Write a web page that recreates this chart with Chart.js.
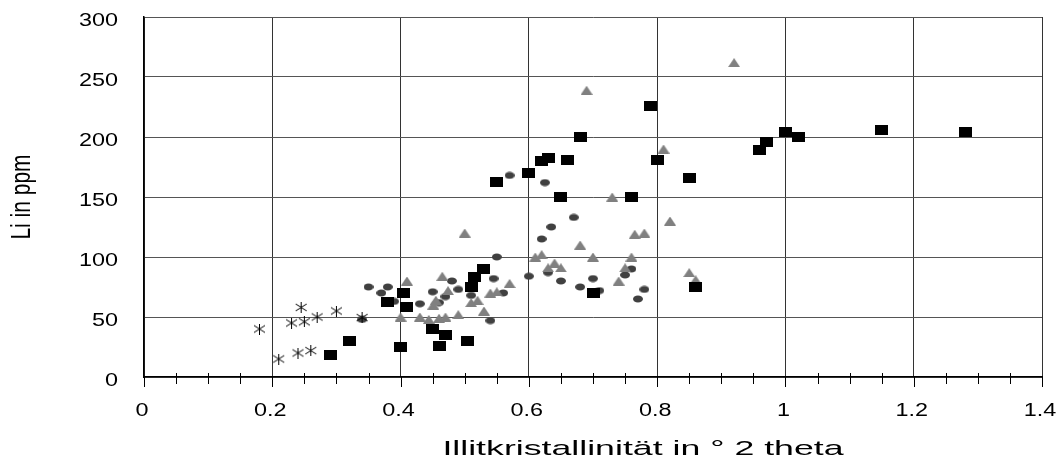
<!DOCTYPE html>
<html>
<head>
<meta charset="utf-8">
<script src="https://cdn.jsdelivr.net/npm/chart.js@4"></script>
<style>
  html, body { margin: 0; padding: 0; background: #fff; }
</style>
</head>
<body>
<canvas id="myChart" width="1063" height="460"></canvas>
<script>
// values (x = Illitkristallinität, y = Li in ppm)
const starX = [0.18, 0.21, 0.23, 0.24, 0.245, 0.25, 0.26, 0.27, 0.30, 0.34];
const starY = [40, 15, 45, 20, 58, 46, 22, 50, 55, 49.5];

const squareX = [0.29, 0.32, 0.38, 0.40, 0.404, 0.41, 0.45, 0.46, 0.47, 0.505, 0.51, 0.515, 0.53,
                 0.55, 0.60, 0.62, 0.63, 0.65, 0.66, 0.68, 0.70, 0.76, 0.79, 0.80, 0.85, 0.86,
                 0.96, 0.97, 1.0, 1.02, 1.15, 1.28];
const squareY = [18, 30, 62.5, 25, 70, 58, 40, 26, 35, 30, 75, 83, 90,
                 162.5, 170, 180, 182.5, 150, 180.5, 200, 70, 150, 226, 181, 166, 75,
                 189, 196, 204, 200, 206, 204];

const triX = [0.40, 0.41, 0.43, 0.444, 0.451, 0.455, 0.46, 0.465, 0.47, 0.474, 0.49, 0.50, 0.51,
              0.52, 0.53, 0.54, 0.55, 0.57, 0.61, 0.62, 0.63, 0.64, 0.65, 0.68, 0.69, 0.70,
              0.73, 0.74, 0.75, 0.76, 0.765, 0.78, 0.81, 0.82, 0.85, 0.86, 0.92];
const triY = [50, 80, 50, 48, 60, 64, 49, 84, 50, 72, 52, 120, 62,
              64, 55, 70, 71, 78, 100, 102, 91, 95, 91, 110, 239, 100,
              150, 80, 91, 100, 119, 120, 190, 130, 87, 81, 262];

const dotX = [0.34, 0.35, 0.37, 0.38, 0.39, 0.43, 0.45, 0.46, 0.47, 0.48, 0.49, 0.51, 0.54, 0.545,
              0.55, 0.56, 0.57, 0.60, 0.62, 0.625, 0.63, 0.635, 0.65, 0.67, 0.68, 0.70, 0.71,
              0.75, 0.76, 0.77, 0.78];
const dotY = [48, 75, 70, 75, 63, 61, 71, 62, 67, 80, 73, 68, 47, 82,
              100, 70, 168, 84, 115, 162, 87, 125, 80, 133, 75, 82, 72,
              85, 90, 65, 73];

const xTicks = [0, 0.2, 0.4, 0.6, 0.8, 1, 1.2, 1.4];
const yTicks = [0, 50, 100, 150, 200, 250, 300];

const xTitle = "Illitkristallinität in ° 2 theta";
const yTitle = "Li in ppm";

const FONT = "'Liberation Sans', Arial, sans-serif";

function pts(xs, ys) {
    return xs.map((x, i) => ({ x: x, y: ys[i] }));
}

// the markers in the picture are stretched sideways, so draw them as small images
function marker(w, h, draw) {
    const c = document.createElement("canvas");
    c.width = w;
    c.height = h;
    draw(c.getContext("2d"), w, h);
    return c;
}

const squareImg = marker(13, 10, (g, w, h) => {
    g.fillStyle = "#000";
    g.fillRect(0, 0, w, h);
});
const dotImg = marker(10, 8, (g, w, h) => {
    g.fillStyle = "#404040";
    g.beginPath();
    g.ellipse(w / 2, h / 2, w / 2, h / 2 - 0.5, 0, 0, Math.PI * 2);
    g.fill();
});
const triImg = marker(12, 9, (g, w, h) => {
    g.fillStyle = "#808080";
    g.beginPath();
    g.moveTo(w / 2, 0);
    g.lineTo(w, h);
    g.lineTo(0, h);
    g.closePath();
    g.fill();
});
const starImg = marker(13, 11, (g, w, h) => {
    g.strokeStyle = "#000";
    g.lineWidth = 1;
    g.beginPath();
    g.moveTo(6.5, 0); g.lineTo(6.5, h);
    g.moveTo(1, 2); g.lineTo(w - 1, h - 2);
    g.moveTo(w - 1, 2); g.lineTo(1, h - 2);
    g.stroke();
});

// wide text like in the picture, plus minor ticks and the x title
const S = 1.3;
const excelLook = {
    id: "excelLook",
    beforeDraw(chart) {
        const fill = CanvasRenderingContext2D.prototype.fillText;
        chart.ctx.fillText = function (text, x, y) {
            const m = this.getTransform();
            this.save();
            this.translate(x, y);
            if (Math.abs(m.b) > 0.5) this.scale(1, S);
            else this.scale(S, 1);
            fill.call(this, text, 0, 0);
            this.restore();
        };
    },
    afterDraw(chart) {
        const ctx = chart.ctx;
        delete ctx.fillText;
        const xs = chart.scales.x;
        const area = chart.chartArea;
        const b = area.bottom;

        ctx.save();
        ctx.strokeStyle = "#000";
        ctx.lineWidth = 1;
        for (let i = 0; i <= 28; i++) {
            const px = Math.round(xs.getPixelForValue(i * 0.05)) + 0.5;
            ctx.beginPath();
            if (i % 4 === 0) {
                ctx.moveTo(px, b);
                ctx.lineTo(px, b + 10);
            } else {
                ctx.moveTo(px, b - 4);
                ctx.lineTo(px, b + 7);
            }
            ctx.stroke();
        }

        ctx.font = "21px " + FONT;
        ctx.fillStyle = "#000";
        ctx.textAlign = "center";
        ctx.textBaseline = "alphabetic";
        ctx.translate((area.left + area.right) / 2 + 50, b + 78);
        ctx.scale(1.7, 1);
        ctx.fillText(xTitle, 0, 0);
        ctx.restore();
    }
};

const ctx = document.getElementById("myChart").getContext("2d");

new Chart(ctx, {
    type: "scatter",
    data: {
        datasets: [
            { label: "stars", data: pts(starX, starY), pointStyle: starImg, pointRadius: 6 },
            { label: "squares", data: pts(squareX, squareY), pointStyle: squareImg, pointRadius: 6 },
            { label: "triangles", data: pts(triX, triY), pointStyle: triImg, pointRadius: 6 },
            { label: "dots", data: pts(dotX, dotY), pointStyle: dotImg, pointRadius: 5 }
        ]
    },
    options: {
        responsive: false,
        animation: false,
        events: [],
        layout: { padding: { left: 0, right: 21, top: 17, bottom: 0 } },
        plugins: {
            legend: { display: false },
            tooltip: { enabled: false }
        },
        scales: {
            x: {
                type: "linear",
                min: xTicks[0],
                max: xTicks[xTicks.length - 1],
                afterFit: s => {
                    s.height = 83;
                    s.paddingLeft = 0;
                    s.paddingRight = 0;
                },
                grid: { display: true, drawOnChartArea: true, color: "#333", lineWidth: 1, drawTicks: false },
                border: { display: true, color: "#000", width: 1.5 },
                ticks: {
                    stepSize: xTicks[1] - xTicks[0],
                    color: "#000",
                    font: { family: FONT, size: 18 },
                    padding: 23,
                    labelOffset: -2,
                    maxRotation: 0,
                    autoSkip: false,
                    callback: v => String(Math.round(v * 10) / 10)
                }
            },
            y: {
                type: "linear",
                min: yTicks[0],
                max: yTicks[yTicks.length - 1],
                afterFit: s => {
                    s.width = 144;
                    s.paddingTop = 0;
                    s.paddingBottom = 0;
                },
                grid: { display: true, drawOnChartArea: true, color: "#555", lineWidth: 1, drawTicks: false },
                border: { display: true, color: "#000", width: 1.5 },
                ticks: {
                    stepSize: yTicks[1] - yTicks[0],
                    color: "#000",
                    font: { family: FONT, size: 18 },
                    padding: 26,
                    labelOffset: 4,
                    autoSkip: false,
                    callback: v => String(v)
                },
                title: {
                    display: true,
                    text: yTitle,
                    color: "#000",
                    font: { family: FONT, size: 21 },
                    padding: { top: 10, bottom: 0 }
                }
            }
        }
    },
    plugins: [excelLook]
});
</script>
</body>
</html>
